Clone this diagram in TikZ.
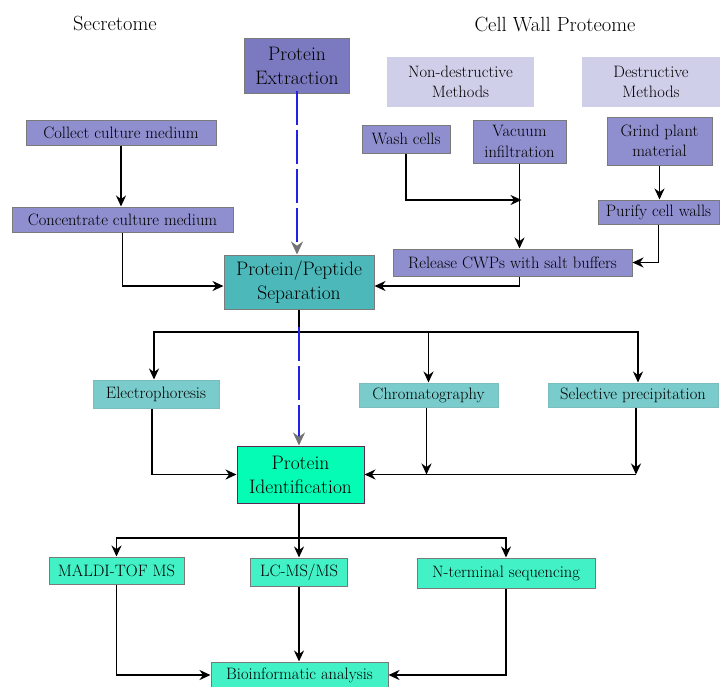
\documentclass[tikz,border=0pt]{standalone}
\usepackage{fontspec}
\setmainfont{Latin Modern Roman}
\usetikzlibrary{arrows.meta,calc}
\definecolor{pedark}{HTML}{7B79BF}
\definecolor{pemid}{HTML}{8F8ECF}
\definecolor{pelight}{HTML}{D0CFEA}
\definecolor{tealdark}{HTML}{4CB8BA}
\definecolor{teallight}{HTML}{7ACCCC}
\definecolor{greenbright}{HTML}{05FCB4}
\definecolor{greenmid}{HTML}{42F2C6}
\definecolor{dashblue}{HTML}{2222E6}
\definecolor{boxedge}{HTML}{7A7A7A}
\definecolor{identedge}{HTML}{5A2A55}
\begin{document}
\begin{tikzpicture}[x=1pt,y=-1pt,
  box/.style={draw=boxedge,line width=1pt,inner sep=0pt,align=center,font=\fontsize{16.5}{20.5}\selectfont},
  bigbox/.style={draw=boxedge,line width=1pt,inner sep=0pt,align=center,font=\fontsize{19.5}{24}\selectfont},
  arr/.style={line width=1.8pt,-{Stealth[length=11pt,width=10pt]}},
  plain/.style={line width=1.8pt},
  dashlink/.style={draw=dashblue,line width=2pt,dash pattern=on 34pt off 5pt,-{Stealth[length=13pt,width=12pt,color=gray!90!black]}},
  title/.style={font=\fontsize{20.5}{24}\selectfont}]
\useasboundingbox (0,0) rectangle (720,686);
% titles
\node[title] (t1) at (115,23) {Secretome};
\node[title] (t2) at (555,24) {Cell Wall Proteome};
% top boxes
\node[bigbox,fill=pedark,minimum width=105pt,minimum height=55pt] (pe) at (297,65.5) {Protein\\Extraction};
\node[box,fill=pemid,minimum width=190pt,minimum height=25pt] (col) at (121,132.5) {Collect culture medium};
\node[box,fill=pemid,minimum width=221pt,minimum height=25pt] (con) at (122.5,219.5) {Concentrate culture medium};
\node[box,draw=none,fill=pelight,minimum width=147pt,minimum height=50pt] (nd) at (460.5,82) {Non-destructive\\Methods};
\node[box,draw=none,fill=pelight,minimum width=138pt,minimum height=50pt] (de) at (651,82) {Destructive\\Methods};
\node[box,fill=pemid,minimum width=88pt,minimum height=28pt] (wash) at (406,139) {Wash cells};
\node[box,fill=pemid,minimum width=93pt,minimum height=43pt] (vac) at (519.5,141.5) {Vacuum\\infiltration};
\node[box,fill=pemid,minimum width=105pt,minimum height=48pt] (grind) at (659.5,141) {Grind plant\\material};
\node[box,fill=pemid,minimum width=121pt,minimum height=24pt] (pur) at (658.5,212) {Purify cell walls};
\node[box,fill=pemid,minimum width=239pt,minimum height=27pt] (rel) at (512.5,262.5) {Release CWPs with salt buffers};
% separation
\node[bigbox,fill=tealdark,minimum width=150pt,minimum height=54pt] (sep) at (299,282) {Protein/Peptide\\Separation};
\node[box,fill=teallight,draw=teallight!80!gray,minimum width=126pt,minimum height=28pt] (ele) at (156,394) {Electrophoresis};
\node[box,fill=teallight,draw=teallight!80!gray,minimum width=139pt,minimum height=24pt] (chr) at (428.5,395) {Chromatography};
\node[box,fill=teallight,draw=teallight!80!gray,minimum width=170pt,minimum height=24pt] (sel) at (633,395) {Selective precipitation};
% identification
\node[bigbox,fill=greenbright,draw=identedge,minimum width=127pt,minimum height=57pt] (idn) at (300.5,474.5) {Protein\\Identification};
\node[box,fill=greenmid,minimum width=135pt,minimum height=27pt] (mal) at (116.5,570.5) {MALDI-TOF MS};
\node[box,fill=greenmid,minimum width=97pt,minimum height=28pt] (lc) at (299,572) {LC-MS/MS};
\node[box,fill=greenmid,minimum width=178pt,minimum height=30pt] (nt) at (506,573) {N-terminal sequencing};
\node[box,fill=greenmid,minimum width=177pt,minimum height=26pt] (bio) at (299.5,675) {Bioinformatic analysis};
% coordinates
\coordinate (hubA) at (sep.south |- 0,332);
\coordinate (hubB) at (299,538);
% connectors: top
\draw[dashlink] ([yshift=3pt]pe.south) -- (pe.south |- sep.north);
\draw[arr] (col.south) -- (col.south |- con.north);
\draw[arr] (con.south) |- (sep.west |- 0,286);
\draw[arr] (wash.south) |- ([xshift=2pt]vac.south |- 0,200);
\draw[arr] (vac.south) -- (vac.south |- rel.north);
\draw[arr] (grind.south) -- (grind.south |- pur.north);
\draw[arr] (pur.south) |- (rel.east);
\draw[plain] (vac.south |- rel.south) -- (vac.south |- 0,286);
\draw[arr] (vac.south |- 0,286) -- (sep.east |- 0,286);
% separation branches
\draw[plain] (sep.south) -- (hubA);
\draw[arr] (hubA) -| ([xshift=-2pt]ele.north);
\draw[arr] (hubA) -| (chr.north);
\draw[arr] (hubA) -| ([xshift=5pt]sel.north);
\draw[dashlink] ([yshift=5pt]hubA) -- (hubA |- idn.north);
\draw[arr] ([xshift=-4pt]ele.south) |- (idn.west);
\draw[arr] ([xshift=-2pt]chr.south) -- ([xshift=-2pt]chr.south |- idn.east);
\draw[arr] ([xshift=3pt]sel.south) -- ([xshift=3pt]sel.south |- idn.east);
\draw[arr] ([xshift=3pt]sel.south |- idn.east) -- (idn.east);
% identification branches
\draw[plain] (idn.south -| hubB) -- (hubB);
\draw[arr] (hubB) -| (mal.north);
\draw[arr] (hubB) -- (hubB |- lc.north);
\draw[arr] (hubB) -| (nt.north);
\draw[arr] (mal.south) |- (bio.west);
\draw[arr] (lc.south) -- (lc.south |- bio.north);
\draw[arr] (nt.south) |- (bio.east);
\end{tikzpicture}
\end{document}
